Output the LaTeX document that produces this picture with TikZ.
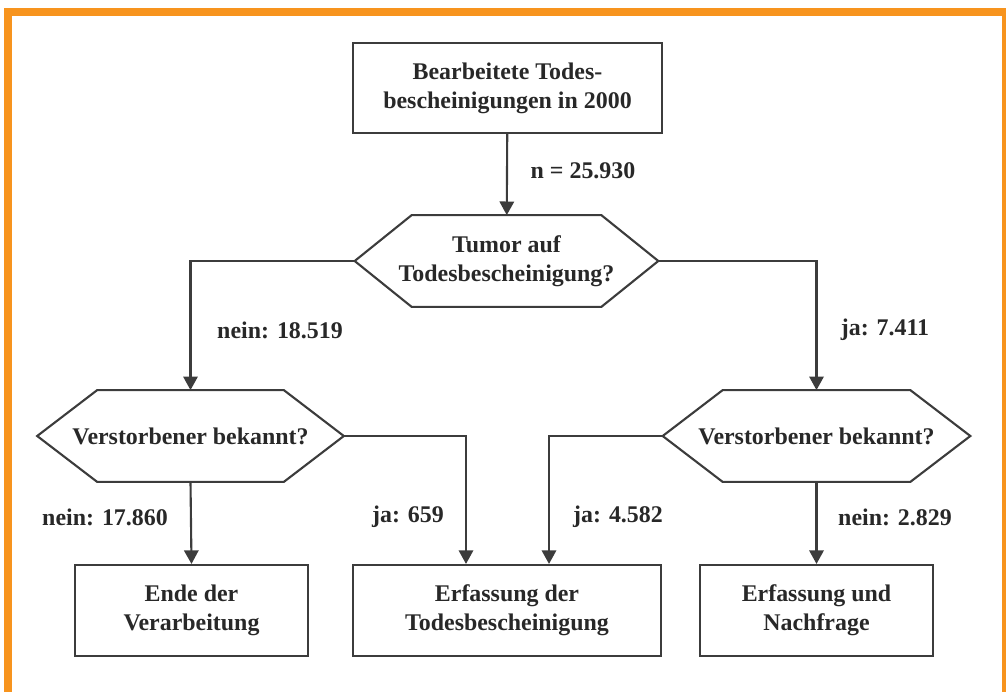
\documentclass[tikz,border=0pt]{standalone}
\usepackage{fontspec}
\setmainfont{Liberation Serif}
\usepackage{tikz}
\usetikzlibrary{calc}
\usetikzlibrary{arrows.meta}
\definecolor{frameorange}{RGB}{247,148,30}
\definecolor{ink}{RGB}{60,60,60}
\definecolor{textink}{RGB}{40,40,40}
\tikzset{
    txt/.style={font=\bfseries\fontsize{17}{20.5}\selectfont, text=textink, align=center, inner sep=0pt},
    box/.style={txt, draw=ink, line width=1.5pt, minimum height=2.275cm},
    ask/.style={txt, minimum height=2.28cm},
    flow/.style={draw=ink, line width=1.5pt, -{Triangle[width=0.36cm,length=0.34cm]}},
    lab/.style={font=\bfseries\fontsize{17}{20}\selectfont, text=textink, inner sep=0pt}
}

\begin{document}
\begin{tikzpicture}[x=0.025cm, y=-0.025cm]
\useasboundingbox (0,0) rectangle (1006,691);
\draw[frameorange, line width=0.2cm] (8,12) rectangle (1006,697);
% boxes
\node[box, minimum width=7.725cm, minimum height=2.25cm] (start) at (507.5,88) {Bearbeitete Todes-\\bescheinigungen in 2000};
\node[box, minimum width=5.825cm] (end) at (191.5,610.5) {Ende der\\Verarbeitung};
\node[box, minimum width=7.7cm] (capture) at (507,610.5) {Erfassung der\\Todesbescheinigung};
\node[box, minimum width=5.825cm] (query) at (816.5,610.5) {Erfassung und\\Nachfrage};
% questions
\node[ask, minimum width=7.575cm] (tumor) at (506.5,261) {Tumor auf\\Todesbescheinigung?};
\node[ask, minimum width=7.65cm] (known1) at (190.5,436) {Verstorbener bekannt?};
\node[ask, minimum width=7.675cm] (known2) at (816.5,436) {Verstorbener bekannt?};
\foreach \q/\c in {tumor/57, known1/60, known2/60}{
    \draw[draw=ink, line width=1.5pt, line join=miter] (\q.west) -- ($(\q.north west)+(\c,0)$) -- ($(\q.north east)+(-\c,0)$) -- (\q.east) -- ($(\q.south east)+(-\c,0)$) -- ($(\q.south west)+(\c,0)$) -- cycle;
}
\coordinate (capL) at ($(capture.north)+(-41,0)$);
\coordinate (capR) at ($(capture.north)+(42,0)$);
% connectors
\draw[flow] (start) -- (tumor);
\draw[flow] (tumor.west) -| (known1.north);
\draw[flow] (tumor.east) -| (known2.north);
\draw[flow] (known1.south) -- (end.north);
\draw[flow] (known1.east) -| (capL);
\draw[flow] (known2.west) -| (capR);
\draw[flow] (known2.south) -- (query.north);
% counts
\node[lab] (nAll) at (583,171) {n = 25.930};
\node[lab] (nNo) at (280,330) {nein: 18.519};
\node[lab] (nYes) at (885,330) {ja: 7.411};
\node[lab] (nNoNo) at (105,517) {nein: 17.860};
\node[lab] (nNoYes) at (408,517) {ja: 659};
\node[lab] (nYesYes) at (618,517) {ja: 4.582};
\node[lab] (nYesNo) at (895,517) {nein: 2.829};
\end{tikzpicture}
\end{document}
